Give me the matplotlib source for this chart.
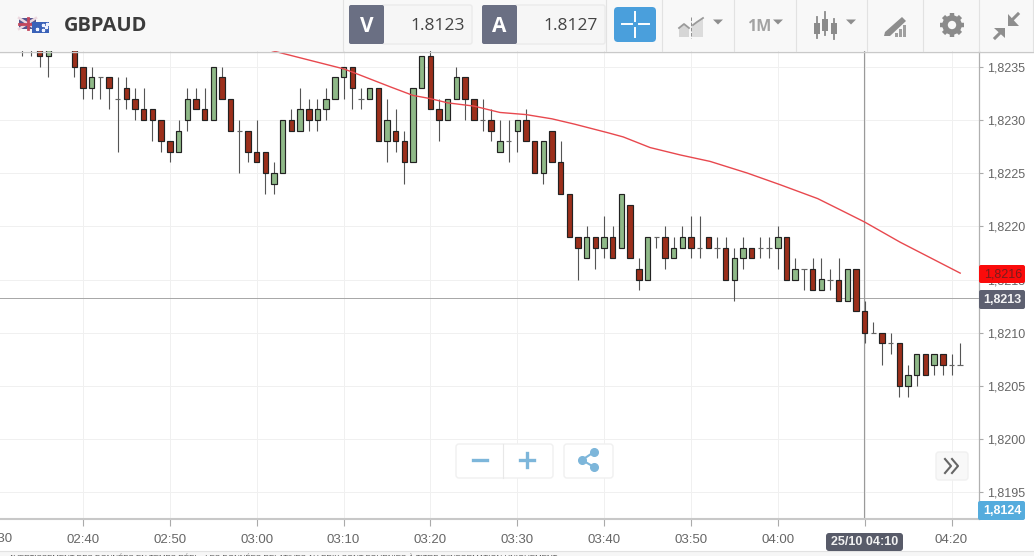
import matplotlib
matplotlib.use("Agg")
import matplotlib.pyplot as plt
from matplotlib.patches import Rectangle, FancyBboxPatch, Circle, Polygon
from matplotlib.ticker import FixedLocator
import numpy as np

plt.rcParams['font.family'] = ['Liberation Sans', 'DejaVu Sans']

# quotes are kept as the last four digits, 8235 reads as 1,8235
first_minute = -7  # minutes from 02:40, one row per ten minutes
opens = [8237, 8237, 8237, 8236, 8238, 8239, 8238,
         8235, 8233, 8234, 8234, 8232, 8233, 8232, 8231, 8231, 8230,
         8228, 8227, 8230, 8232, 8231, 8230, 8234, 8232, 8229, 8229,
         8227, 8227, 8224, 8225, 8230, 8229, 8231, 8230, 8231, 8232,
         8234, 8235, 8232, 8232, 8233, 8228, 8229, 8228, 8226, 8233,
         8236, 8231, 8230, 8232, 8234, 8232, 8230, 8230, 8227, 8228,
         8229, 8230, 8228, 8225, 8229, 8226, 8223, 8219, 8217, 8219,
         8218, 8219, 8218, 8222, 8216, 8215, 8219, 8219, 8217, 8218,
         8219, 8218, 8219, 8218, 8218, 8215, 8217, 8218, 8218, 8218,
         8218, 8219, 8215, 8216, 8216, 8214, 8215, 8215, 8213, 8216,
         8212, 8210, 8210, 8209, 8209, 8205, 8206, 8208, 8207, 8208, 8207, 8207]
highs = [8239, 8239, 8238, 8238, 8240, 8240, 8238,
         8235, 8235, 8234, 8234, 8234, 8234, 8233, 8233, 8231, 8230,
         8228, 8230, 8233, 8233, 8233, 8235, 8235, 8232, 8230, 8229,
         8230, 8227, 8226, 8230, 8231, 8233, 8232, 8232, 8233, 8234,
         8235, 8235, 8233, 8233, 8233, 8232, 8231, 8229, 8233, 8236,
         8237, 8232, 8232, 8235, 8234, 8232, 8232, 8231, 8230, 8230,
         8230, 8231, 8228, 8228, 8229, 8228, 8223, 8219, 8220, 8219,
         8221, 8220, 8223, 8222, 8217, 8219, 8219, 8220, 8219, 8220,
         8221, 8221, 8219, 8219, 8219, 8218, 8219, 8218, 8219, 8219,
         8220, 8219, 8217, 8216, 8217, 8217, 8216, 8217, 8216, 8216,
         8213, 8211, 8210, 8210, 8209, 8207, 8208, 8208, 8208, 8208, 8208, 8209]
lows = [8236, 8236, 8235, 8234, 8237, 8237, 8234,
        8232, 8232, 8232, 8231, 8227, 8231, 8230, 8230, 8228, 8227,
        8226, 8227, 8229, 8231, 8230, 8230, 8232, 8229, 8225, 8226,
        8226, 8223, 8223, 8225, 8229, 8229, 8229, 8229, 8230, 8232,
        8232, 8231, 8231, 8232, 8228, 8226, 8227, 8224, 8226, 8233,
        8231, 8228, 8230, 8232, 8230, 8230, 8229, 8228, 8227, 8226,
        8227, 8228, 8225, 8224, 8226, 8223, 8219, 8215, 8217, 8216,
        8217, 8217, 8218, 8217, 8214, 8215, 8218, 8216, 8217, 8218,
        8217, 8217, 8218, 8217, 8215, 8213, 8216, 8217, 8217, 8217,
        8216, 8215, 8215, 8214, 8214, 8214, 8214, 8213, 8213, 8212,
        8209, 8210, 8207, 8208, 8204, 8204, 8205, 8206, 8206, 8206, 8206, 8207]
closes = [8237, 8237, 8236, 8237, 8239, 8238, 8235,
          8233, 8234, 8234, 8233, 8232, 8232, 8231, 8230, 8230, 8228,
          8227, 8229, 8232, 8231, 8230, 8235, 8232, 8229, 8229, 8227,
          8226, 8225, 8225, 8230, 8229, 8231, 8230, 8231, 8232, 8234,
          8235, 8233, 8232, 8233, 8228, 8230, 8228, 8226, 8233, 8236,
          8231, 8230, 8232, 8234, 8232, 8230, 8230, 8229, 8228, 8228,
          8230, 8228, 8225, 8228, 8226, 8223, 8219, 8218, 8219, 8218,
          8219, 8217, 8223, 8217, 8215, 8219, 8219, 8217, 8218, 8219,
          8218, 8218, 8218, 8218, 8215, 8217, 8218, 8217, 8218, 8218,
          8219, 8215, 8216, 8216, 8214, 8215, 8215, 8213, 8216, 8212,
          8210, 8210, 8209, 8209, 8205, 8206, 8208, 8206, 8208, 8207, 8207, 8207]

# moving average
ma_minutes = [21.8, 30, 31, 35.4, 38, 40, 42, 45, 48, 51, 54, 56.6, 60.4, 62.2, 65.3, 68.8, 72.2, 76.5, 80.3, 84.6,
              87.8, 90, 94.1, 101]
ma_values = [8236.5, 8234.8, 8234.5, 8233.1, 8232.3, 8232.0, 8231.6, 8231.3, 8230.7, 8230.5, 8230.1, 8229.6, 8228.8,
             8228.4, 8227.4, 8226.7, 8226.1, 8225.0, 8223.9, 8222.6, 8221.3, 8220.4, 8218.5, 8215.6]

x_tick_minutes = [0, 10, 20, 30, 40, 50, 60, 70, 80, 90, 100]
x_tick_labels = ['02:40', '02:50', '03:00', '03:10', '03:20', '03:30', '03:40', '03:50', '04:00', '', '04:20']
y_tick_values = [8195, 8200, 8205, 8210, 8215, 8220, 8225, 8230, 8235]
y_tick_labels = ['1,8195', '1,8200', '1,8205', '1,8210', '1,8215', '1,8220', '1,8225', '1,8230', '1,8235']

# pixel layout of the screenshot
W, H = 1034, 556
PLOT_R, PLOT_T, PLOT_B = 979, 51, 519
PX_MIN = 8.685
PX_PIP = 10.64


def px_to_minute(px):
    return (px - 83) / PX_MIN


def px_to_quote(py):
    return 8235 + (66.7 - py) / PX_PIP


fig = plt.figure(figsize=(W / 100, H / 100), dpi=100, facecolor='white')
ax = fig.add_axes([0, 1 - PLOT_B / H, PLOT_R / W, (PLOT_B - PLOT_T) / H])
ax.set_xlim(px_to_minute(0), px_to_minute(PLOT_R))
ax.set_ylim(px_to_quote(PLOT_B), px_to_quote(PLOT_T))

minutes = first_minute + np.arange(len(opens))
o = np.array(opens)
c = np.array(closes)

ax.xaxis.set_major_locator(FixedLocator(x_tick_minutes))
ax.set_xticklabels(x_tick_labels)
ax.yaxis.tick_right()
ax.set_yticks(y_tick_values)
ax.set_yticklabels(y_tick_labels)
ax.tick_params(axis='x', length=5, width=0.8, color='#aaaaaa', labelcolor='#666666', labelsize=9.5, pad=6)
ax.tick_params(axis='y', length=3, width=0.8, color='#aaaaaa', labelcolor='#666666', labelsize=9, pad=2.5)
ax.grid(True, color='#f0f0f0', linewidth=0.72)
ax.set_axisbelow(True)
for side in ['top', 'left']:
    ax.spines[side].set_visible(False)
ax.spines['right'].set_color('#b0b0b0')
ax.spines['right'].set_linewidth(0.9)
ax.spines['bottom'].set_color('#c8c8c8')
ax.spines['bottom'].set_linewidth(1.5)

# crosshair
ax.axhline(px_to_quote(297.5), color='#a8a8a8', linewidth=0.72, zorder=1.5)
ax.axvline(px_to_minute(864), color='#9a9a9a', linewidth=0.8, zorder=1.5)

# candles
ax.vlines(minutes, lows, highs, colors='#555555', linewidth=0.8, zorder=2)
body_colors = ['#8fb988' if b >= a else '#9c2f1b' for a, b in zip(o, c)]
edge_colors = ['#666666' if a == b else '#222222' for a, b in zip(o, c)]
ax.bar(minutes, c - o, bottom=o, width=5.4 / PX_MIN, color=body_colors, edgecolor=edge_colors, linewidth=0.85, zorder=3)

ax.plot(ma_minutes, ma_values, color='#e8484e', linewidth=1, zorder=4)

# screenshot chrome on a pixel axes
ui = fig.add_axes([0, 0, 1, 1], facecolor='none')
ui.set_xlim(0, W)
ui.set_ylim(H, 0)
ui.axis('off')

# the 02:30 label is cut by the left edge
ui.text(-4, 539, '02:30', ha='center', va='center', color='#666666', fontsize=9.5, zorder=9)


def box(x0, y0, x1, y1, color, edge='none', radius=0.0, z=5, lw=1):
    if radius:
        p = FancyBboxPatch((x0 + radius, y0 + radius), x1 - x0 - 2 * radius, y1 - y0 - 2 * radius,
                           boxstyle=f'round,pad={radius},rounding_size={radius}', fc=color, ec=edge, lw=lw, zorder=z)
    else:
        p = Rectangle((x0, y0), x1 - x0, y1 - y0, fc=color, ec=edge, lw=lw, zorder=z)
    ui.add_patch(p)


def tri(x, y, color='#8e8e8e'):
    ui.add_patch(Polygon([[x - 5, y - 2.5], [x + 5, y - 2.5], [x, y + 2.5]], fc=color, ec='none', zorder=6))


# toolbar
box(0, 0, W, 51, '#f8f8f8')
ui.plot([0, W], [51.5, 51.5], color='#c9c9c9', lw=1, zorder=6)
for sx in [343, 606, 662, 734, 796, 867, 923, 979, 1033]:
    ui.plot([sx, sx], [0, 51], color='#e2e2e2', lw=0.8, zorder=6)

# flags
box(19, 18, 36, 29, '#56558f', z=6)
ui.plot([19, 36], [18, 29], color='#ecd9e0', lw=1.8, zorder=7)
ui.plot([19, 36], [29, 18], color='#ecd9e0', lw=1.8, zorder=7)
ui.plot([27.5, 27.5], [18, 29], color='#c4475c', lw=2, zorder=7)
ui.plot([19, 36], [23.5, 23.5], color='#c4475c', lw=2, zorder=7)
box(32, 22, 49, 33, '#3a62b8', z=8)
ui.plot([37, 43, 43, 46, 47], [29, 25, 30, 27, 24], ls='none', marker='*', ms=2.2, color='#eef2ff', zorder=9)

ui.text(64, 26, 'GBPAUD', family='Open Sans', weight='bold', fontsize=14.5, color='#3c3c3c', va='center', zorder=9)

# bid and ask boxes
for x0, letter, quote in [(349, 'V', '1.8123'), (482, 'A', '1.8127')]:
    box(x0 + 33, 5, x0 + 123, 44, '#f6f6f6', edge='#ebebeb', radius=2)
    box(x0, 5, x0 + 35, 44, '#6a6f83', radius=2, z=6)
    ui.text(x0 + 17.5, 26.5, letter, family='Open Sans', weight='bold', fontsize=15, color='white', ha='center',
            va='center', zorder=9)
    ui.text(x0 + 116, 26, quote, family='Open Sans', fontsize=12.5, color='#444444', ha='right', va='center', zorder=9)

# crosshair button
box(614, 7, 656, 42, '#4a9fdc', radius=4)
for xs, ys in [([622, 632], [24, 24]), ([639, 649], [24, 24]), ([634.5, 634.5], [12, 21]), ([634.5, 634.5], [28, 37])]:
    ui.plot(xs, ys, color='white', lw=1.4, zorder=7)

# indicators icon
ui.add_patch(Polygon([[679, 37], [679, 28], [684, 24], [689, 28], [689, 37]], fc='#d6d6d6', ec='none', zorder=6))
ui.add_patch(Polygon([[692, 37], [692, 25], [703, 18], [703, 37]], fc='#dcdcdc', ec='none', zorder=6))
ui.plot([691, 691], [17, 38], color='#8e8e8e', lw=0.7, ls='--', zorder=7)
ui.plot([693, 697, 703], [25, 22, 18], color='#9a9a9a', lw=1.3, zorder=7)
ui.plot([679, 684, 689], [28, 24, 28], color='#9a9a9a', lw=1.3, zorder=7)
tri(718, 22)

ui.text(747, 27, '1M', family='Open Sans', weight='bold', fontsize=11.5, color='#a3a3a3', va='center', zorder=9)
tri(778, 22)

# candle icon
for cx, y0, y1, w0, w1 in [(817, 17, 38, 23, 34), (825, 12, 35, 19, 31), (834, 19, 39, 23, 34)]:
    ui.plot([cx, cx], [y0, y1], color='#8b8b8b', lw=1.3, zorder=7)
    box(cx - 3, w0, cx + 3, w1, '#8b8b8b', z=7)
tri(851, 22)

# drawing icon
ui.add_patch(Polygon([[885, 32], [902, 17], [906, 21], [890, 36], [884, 36]], fc='#8e8e8e', ec='none', zorder=7))
for bx, by in [(895, 33), (899, 29), (903, 25)]:
    box(bx, by, bx + 3, 37, '#a0a0a0', z=6)

# gear
for ang in np.arange(0, 360, 45):
    dx, dy = np.cos(np.radians(ang)), np.sin(np.radians(ang))
    ui.plot([952 + 8 * dx, 952 + 12 * dx], [25 + 8 * dy, 25 + 12 * dy], color='#8b8b8b', lw=3.2, zorder=7,
            solid_capstyle='butt')
ui.add_patch(Circle((952, 25), 7, fc='none', ec='#8b8b8b', lw=4, zorder=7))

# compress arrows
ui.plot([1012, 1018], [20, 14], color='#8e8e8e', lw=2.2, zorder=7)
ui.add_patch(Polygon([[1008, 14], [1008, 26], [1019, 26]], fc='#8e8e8e', ec='none', zorder=7))
ui.plot([1000, 995], [33, 38], color='#8e8e8e', lw=2.2, zorder=7)
ui.add_patch(Polygon([[994, 28], [1005, 28], [1005, 38]], fc='#8e8e8e', ec='none', zorder=7))

# price flags
box(979, 265, 1025, 283, '#fa0b0b', radius=2)
ui.text(1022, 274.5, '1,8216', fontsize=9, color='#7a1c1c', ha='right', va='center', zorder=9)
box(979, 290, 1025, 309, '#5d6070', radius=2)
ui.text(1022, 300, '1,8213', fontsize=9, weight='bold', color='#f4f4f4', ha='right', va='center', zorder=9)
box(978, 501, 1025, 520, '#55acdd', radius=2)
ui.text(1022, 511, '1,8124', fontsize=9, weight='bold', color='white', ha='right', va='center', zorder=9)

# time flag and bottom strip
box(0, 551, W, H, '#f6f6f6')
ui.plot([0, W], [550.5, 550.5], color='#e2e2e2', lw=0.8, zorder=6)
ui.text(9, 553.5, "AVERTISSEMENT DES DONNÉES EN TEMPS RÉEL : LES DONNÉES RELATIVES AU PRIX SONT FOURNIES À TITRE D'INFORMATION UNIQUEMENT",
        fontsize=5.7, color='#555555', va='top', zorder=7)
box(826, 533, 903, 551, '#585b69', radius=3, z=7)
ui.text(864.5, 542, '25/10 04:10', fontsize=9, weight='bold', color='#f2f2f2', ha='center', va='center', zorder=9)

# zoom and share buttons
box(456, 444, 553, 478, 'white', edge='#f0f0f0', radius=3)
ui.plot([503, 503], [444, 478], color='#e8e8e8', lw=0.8, zorder=6)
ui.plot([473, 487], [460, 460], color='#7db6da', lw=2.4, zorder=7)
ui.plot([520, 534], [460, 460], color='#7db6da', lw=2.4, zorder=7)
ui.plot([527, 527], [453, 467], color='#7db6da', lw=2.4, zorder=7)
box(564, 444, 613, 478, 'white', edge='#f0f0f0', radius=3)
ui.plot([594, 582, 594], [452, 460, 467], color='#7db6da', lw=1.5, zorder=7)
ui.plot([594, 582, 594], [452, 460, 467], ls='none', marker='o', ms=5.5, color='#7db6da', zorder=7)
box(936, 452, 968, 480, '#f8f8f8', edge='#f0f0f0', radius=3)
ui.plot([945, 951, 945], [459, 466, 473], color='#666666', lw=1.5, zorder=7)
ui.plot([952, 958, 952], [459, 466, 473], color='#666666', lw=1.5, zorder=7)

fig.savefig('out.png', dpi=100)
